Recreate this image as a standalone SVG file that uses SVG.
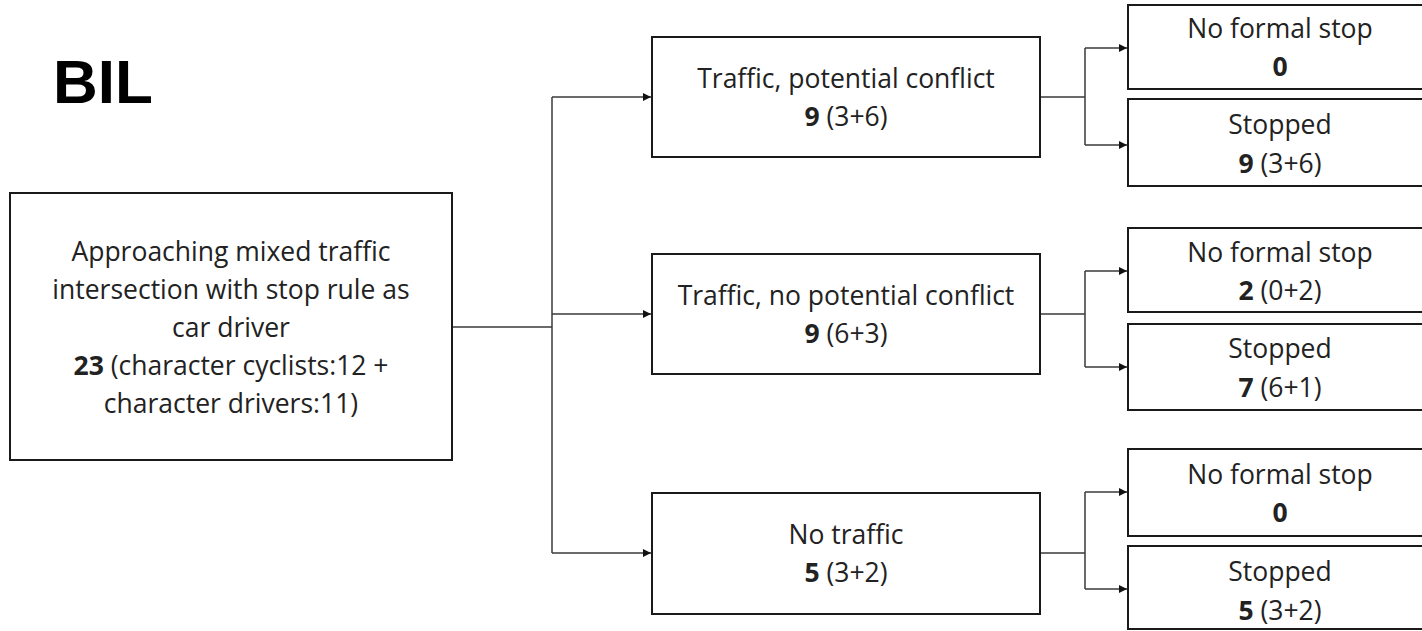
<svg xmlns="http://www.w3.org/2000/svg" width="1422" height="631" viewBox="0 0 1422 631">
<defs>
<marker id="arr" markerWidth="9" markerHeight="8" refX="8" refY="4" orient="auto" markerUnits="userSpaceOnUse">
<path d="M0,0 L8,4 L0,8 z" fill="#111"/>
</marker>
<style>
.box{fill:#fff;stroke:#1a1a1a;stroke-width:2}
.t{font-family:"Open Sans","Noto Sans",sans-serif;font-size:26.5px;fill:#222;text-anchor:middle}
.b{font-weight:bold}
.c{fill:none;stroke:#3a3a3a;stroke-width:1.5}
.title{font-family:"Liberation Sans",Arial,sans-serif;font-weight:bold;font-size:62px;fill:#000}
</style>
</defs>
<rect width="1422" height="631" fill="#fff"/>
<text class="title" x="53" y="103">BIL</text>

<g id="connectors">
<path class="c" d="M452,327 H552"/>
<path class="c" d="M552,97 V553"/>
<path class="c" d="M552,97 H651" marker-end="url(#arr)"/>
<path class="c" d="M552,314 H651" marker-end="url(#arr)"/>
<path class="c" d="M552,553 H651" marker-end="url(#arr)"/>
<path class="c" d="M1040,97 H1085 M1085,48 V145"/>
<path class="c" d="M1085,48 H1127" marker-end="url(#arr)"/>
<path class="c" d="M1085,145 H1127" marker-end="url(#arr)"/>
<path class="c" d="M1040,314 H1085 M1085,271 V367"/>
<path class="c" d="M1085,271 H1127" marker-end="url(#arr)"/>
<path class="c" d="M1085,367 H1127" marker-end="url(#arr)"/>
<path class="c" d="M1040,553 H1085 M1085,492 V589"/>
<path class="c" d="M1085,492 H1127" marker-end="url(#arr)"/>
<path class="c" d="M1085,589 H1127" marker-end="url(#arr)"/>
</g>

<g id="root">
<rect class="box" x="10" y="193" width="442" height="267"/>
<text class="t" x="231" y="261">Approaching mixed traffic</text>
<text class="t" x="231" y="299">intersection with stop rule as</text>
<text class="t" x="231" y="337">car driver</text>
<text class="t" x="231" y="375"><tspan class="b">23</tspan> (character cyclists:12 +</text>
<text class="t" x="231" y="413">character drivers:11)</text>
</g>

<g id="conflict">
<rect class="box" x="652" y="37" width="388" height="120"/>
<text class="t" x="846" y="88">Traffic, potential conflict</text>
<text class="t" x="846" y="126"><tspan class="b">9</tspan> (3+6)</text>
</g>
<g id="noconflict">
<rect class="box" x="652" y="254" width="388" height="120"/>
<text class="t" x="846" y="305">Traffic, no potential conflict</text>
<text class="t" x="846" y="343"><tspan class="b">9</tspan> (6+3)</text>
</g>
<g id="notraffic">
<rect class="box" x="652" y="493" width="388" height="121"/>
<text class="t" x="846" y="544">No traffic</text>
<text class="t" x="846" y="582"><tspan class="b">5</tspan> (3+2)</text>
</g>

<g id="c-nostop">
<rect class="box" x="1128" y="5" width="304" height="84"/>
<text class="t" x="1280" y="38">No formal stop</text>
<text class="t b" x="1280" y="76">0</text>
</g>
<g id="c-stopped">
<rect class="box" x="1128" y="99" width="304" height="87"/>
<text class="t" x="1280" y="134">Stopped</text>
<text class="t" x="1280" y="173"><tspan class="b">9</tspan> (3+6)</text>
</g>
<g id="n-nostop">
<rect class="box" x="1128" y="228" width="304" height="84"/>
<text class="t" x="1280" y="262">No formal stop</text>
<text class="t" x="1280" y="300"><tspan class="b">2</tspan> (0+2)</text>
</g>
<g id="n-stopped">
<rect class="box" x="1128" y="324" width="304" height="86"/>
<text class="t" x="1280" y="358">Stopped</text>
<text class="t" x="1280" y="397"><tspan class="b">7</tspan> (6+1)</text>
</g>
<g id="t-nostop">
<rect class="box" x="1128" y="449" width="304" height="87"/>
<text class="t" x="1280" y="484">No formal stop</text>
<text class="t b" x="1280" y="522">0</text>
</g>
<g id="t-stopped">
<rect class="box" x="1128" y="546" width="304" height="83"/>
<text class="t" x="1280" y="581">Stopped</text>
<text class="t" x="1280" y="620"><tspan class="b">5</tspan> (3+2)</text>
</g>
</svg>
